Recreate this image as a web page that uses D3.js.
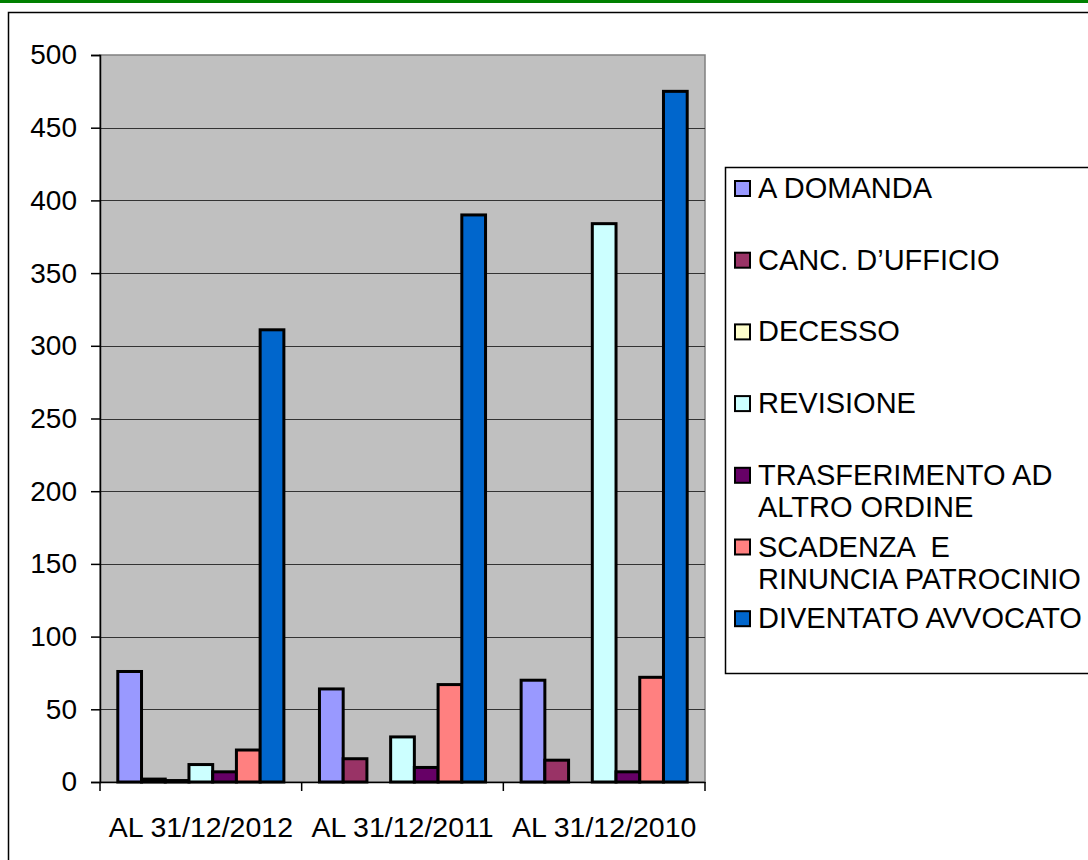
<!DOCTYPE html>
<html>
<head>
<meta charset="utf-8">
<script src="https://cdn.jsdelivr.net/npm/d3@7"></script>
<style>
  body { margin: 0; background: #fff; }
  text { font-family: "Liberation Sans", Arial, sans-serif; }
</style>
</head>
<body>
<div id="chart"></div>
<script>
// categories and series
var categories = ["AL 31/12/2012", "AL 31/12/2011", "AL 31/12/2010"];
var aDomanda = [76, 64, 70];
var cancUfficio = [2, 16, 15];
var decesso = [1, 0, 0];
var revisione = [12, 31, 384];
var trasferimento = [7, 10, 7];
var scadenza = [22, 67, 72];
var diventato = [311, 390, 475];
var yTicks = [0, 50, 100, 150, 200, 250, 300, 350, 400, 450, 500];

var seriesNames = ["A DOMANDA", "CANC. D\u2019UFFICIO", "DECESSO", "REVISIONE",
  "TRASFERIMENTO AD\nALTRO ORDINE", "SCADENZA  E\nRINUNCIA PATROCINIO", "DIVENTATO AVVOCATO"];
var seriesValues = [aDomanda, cancUfficio, decesso, revisione, trasferimento, scadenza, diventato];
var colors = ["#9999FF", "#993366", "#FFFFCC", "#CCFFFF", "#660066", "#FF8080", "#0066CC"];

var W = 1088, H = 860;
var plot = { left: 100, top: 55, right: 705, bottom: 782 };

var svg = d3.select("#chart").append("svg")
  .attr("width", W)
  .attr("height", H);

svg.append("rect").attr("width", W).attr("height", H).attr("fill", "#fff");

// green strip on top + outer frame
svg.append("rect").attr("x", 0).attr("y", 0).attr("width", W).attr("height", 3).attr("fill", "#008000");
svg.append("path")
  .attr("d", "M8.5," + H + "V12.5H" + W)
  .attr("fill", "none").attr("stroke", "#000").attr("stroke-width", 1.5);

// scales
var x = d3.scaleBand().domain(categories).range([plot.left, plot.right]).padding(0);
var xSub = d3.scaleBand().domain(d3.range(seriesNames.length))
  .range([0, x.bandwidth()]).paddingInner(0).paddingOuter(0.75);
var y = d3.scaleLinear().domain([0, 500]).range([plot.bottom, plot.top]);

// plot area
svg.append("rect")
  .attr("x", plot.left).attr("y", plot.top)
  .attr("width", plot.right - plot.left).attr("height", plot.bottom - plot.top)
  .attr("fill", "#C0C0C0").attr("stroke", "#808080").attr("stroke-width", 1.5);

// gridlines
svg.append("g").selectAll("line")
  .data(yTicks.filter(function (d) { return d > 0 && d < 500; }))
  .enter().append("line")
  .attr("x1", plot.left).attr("x2", plot.right)
  .attr("y1", function (d) { return Math.round(y(d)) + 0.5; })
  .attr("y2", function (d) { return Math.round(y(d)) + 0.5; })
  .attr("stroke", "#333").attr("stroke-width", 1.2);

// bars
var groups = svg.append("g").selectAll("g")
  .data(categories)
  .enter().append("g")
  .attr("transform", function (d) { return "translate(" + x(d) + ",0)"; });

groups.selectAll("rect")
  .data(function (c, ci) {
    return seriesValues.map(function (vals, si) { return { s: si, v: vals[ci] }; });
  })
  .enter().append("rect")
  .attr("x", function (d) { return xSub(d.s); })
  .attr("y", function (d) { return y(d.v); })
  .attr("width", xSub.bandwidth())
  .attr("height", function (d) { return y(0) - y(d.v); })
  .attr("fill", function (d) { return colors[d.s]; })
  .attr("stroke", "#000")
  .attr("stroke-width", 3);

// y axis
var yAxis = svg.append("g")
  .attr("transform", "translate(" + plot.left + ",0)")
  .call(d3.axisLeft(y).tickValues(yTicks).tickSize(9).tickPadding(14));
yAxis.select(".domain").attr("stroke", "#000").attr("stroke-width", 1.5);
yAxis.selectAll(".tick line").attr("stroke", "#000").attr("stroke-width", 1.5);
yAxis.selectAll("text").attr("font-size", 28).attr("fill", "#000")
  .style("font-family", "'Liberation Sans', Arial, sans-serif");

// x axis
var xAxis = svg.append("g")
  .attr("transform", "translate(0," + plot.bottom + ")")
  .call(d3.axisBottom(x).tickSize(0).tickPadding(35));
xAxis.select(".domain").attr("stroke", "#000").attr("stroke-width", 1.5);
xAxis.selectAll("text").attr("font-size", 28.5).attr("fill", "#000")
  .style("font-family", "'Liberation Sans', Arial, sans-serif");
xAxis.selectAll(".edge")
  .data(categories.map(function (c) { return x(c); }).concat([plot.right]))
  .enter().append("line")
  .attr("class", "edge")
  .attr("x1", function (d) { return d; }).attr("x2", function (d) { return d; })
  .attr("y1", 0).attr("y2", 9)
  .attr("stroke", "#000").attr("stroke-width", 1.5);

// legend
var legend = svg.append("g");
legend.append("rect")
  .attr("x", 725.5).attr("y", 167.5)
  .attr("width", 400).attr("height", 506)
  .attr("fill", "#fff").attr("stroke", "#000").attr("stroke-width", 1.5);

var items = legend.selectAll("g.item")
  .data(seriesNames)
  .enter().append("g")
  .attr("class", "item")
  .attr("transform", function (d, i) { return "translate(0," + (198 + i * 71.7) + ")"; });

items.append("rect")
  .attr("x", 735).attr("y", -17)
  .attr("width", 15).attr("height", 15)
  .attr("fill", function (d, i) { return colors[i]; })
  .attr("stroke", "#000").attr("stroke-width", 2);

items.append("text")
  .attr("x", 758)
  .attr("font-size", 29)
  .attr("fill", "#000")
  .style("white-space", "pre")
  .selectAll("tspan")
  .data(function (d) { return d.split("\n"); })
  .enter().append("tspan")
  .attr("x", 758)
  .attr("y", function (d, i) { return i * 32; })
  .text(function (d) { return d; });
</script>
</body>
</html>
